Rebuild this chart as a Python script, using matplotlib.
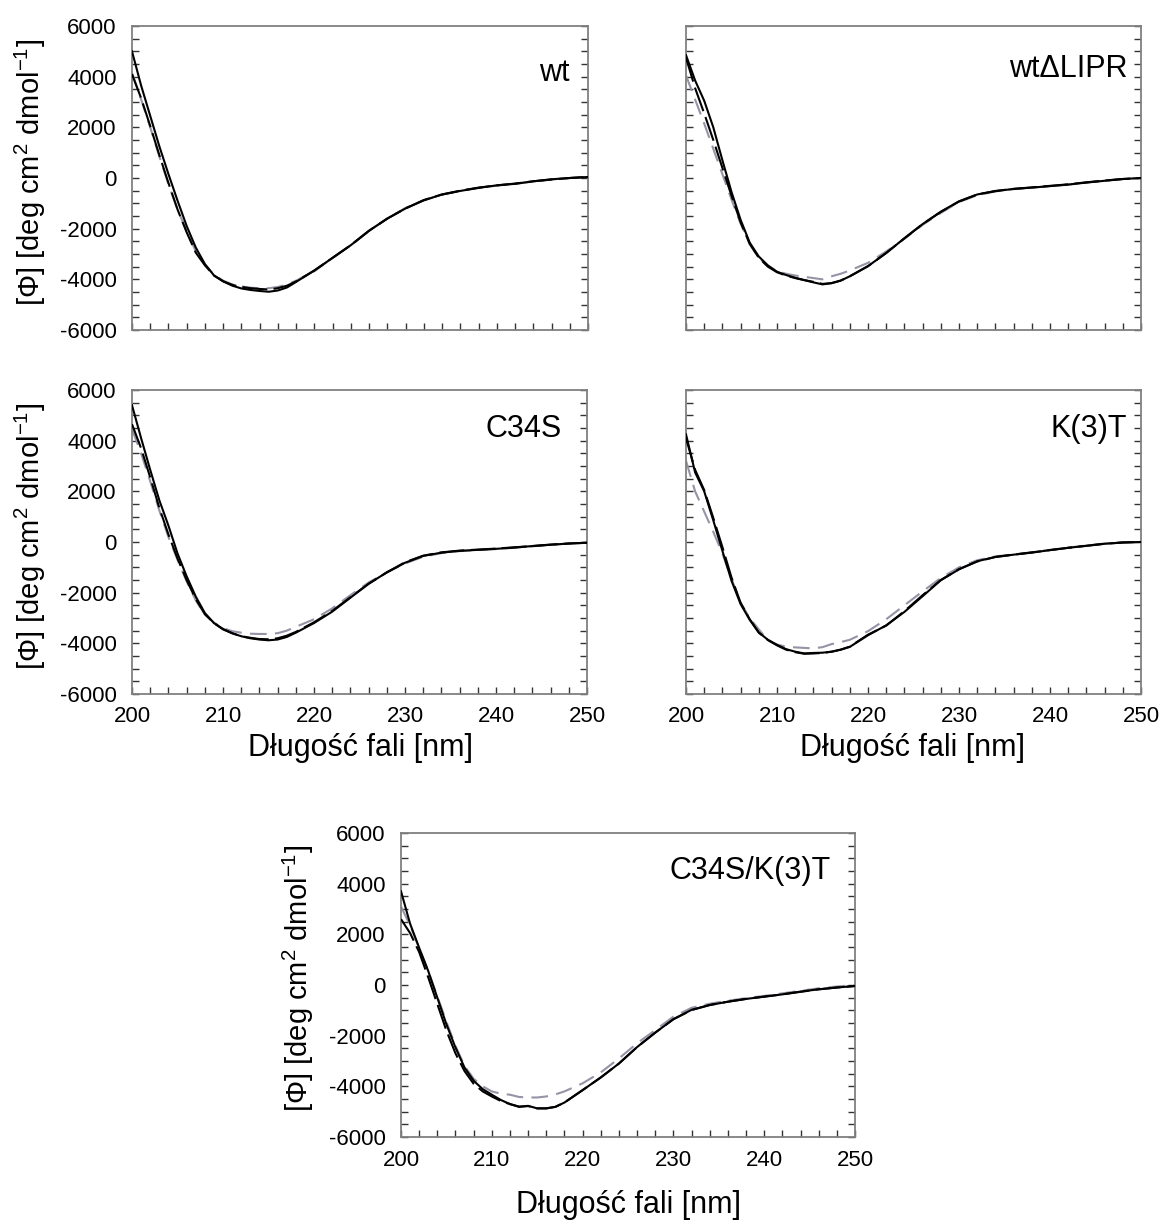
import matplotlib
matplotlib.use("Agg")
import matplotlib.pyplot as plt
from matplotlib.ticker import MultipleLocator

plt.rcParams['font.family'] = ['Liberation Sans', 'DejaVu Sans']
plt.rcParams['mathtext.fontset'] = 'custom'
plt.rcParams['mathtext.rm'] = 'Liberation Sans'
plt.rcParams['mathtext.it'] = 'Liberation Sans:italic'
plt.rcParams['mathtext.bf'] = 'Liberation Sans:bold'
plt.rcParams['axes.unicode_minus'] = False

# ---------------- data ----------------
wavelength = [200, 201, 202, 203, 204, 205, 206, 207, 208, 209, 210, 211, 212, 213, 214,
              215, 216, 217, 218, 220, 222, 224, 226, 228,
              230, 232, 234, 236, 238, 240, 242, 244, 246, 248, 250]

panel_names = ["wt", "wt\u0394LIPR", "C34S", "K(3)T", "C34S/K(3)T"]

wt_solid = [5000, 3650, 2450, 1250, 150, -900, -1900, -2750, -3400, -3850, -4080, -4250, -4360, -4420, -4460,
            -4490, -4440, -4320, -4100, -3650, -3150, -2650, -2080, -1600,
            -1200, -880, -650, -510, -390, -290, -230, -130, -50, 0, 40]
wt_dash = [4100, 3150, 2050, 900, -200, -1250, -2150, -2950, -3450, -3850, -4080, -4220, -4300, -4350, -4380,
           -4400, -4350, -4250, -4080, -3650, -3150, -2650, -2080, -1600,
           -1200, -870, -650, -500, -380, -290, -220, -130, -60, 0, 40]
wt_gray = [4150, 3100, 2000, 850, -250, -1250, -2100, -2900, -3420, -3830, -4050, -4200, -4280, -4330, -4350,
           -4350, -4300, -4200, -4050, -3680, -3150, -2650, -2080, -1600,
           -1180, -880, -660, -510, -390, -300, -230, -140, -60, 0, 40]

lipr_solid = [4850, 3850, 3050, 2000, 700, -550, -1650, -2550, -3100, -3450, -3700, -3830, -3940, -4030, -4120,
              -4200, -4150, -4050, -3880, -3480, -2960, -2380, -1820, -1330,
              -920, -650, -520, -430, -380, -320, -260, -180, -110, -40, 0]
lipr_dash = [4750, 3550, 2550, 1500, 400, -700, -1750, -2600, -3150, -3500, -3720, -3850, -3950, -4030, -4100,
             -4180, -4150, -4050, -3880, -3480, -2960, -2380, -1820, -1340,
             -930, -650, -510, -430, -370, -310, -250, -170, -100, -40, 0]
lipr_gray = [4050, 3100, 2150, 1150, 150, -850, -1800, -2600, -3150, -3480, -3680, -3780, -3850, -3900, -3950,
             -4000, -3880, -3780, -3650, -3350, -2900, -2400, -1850, -1380,
             -950, -680, -530, -440, -380, -320, -260, -180, -110, -40, 0]

c34s_solid = [5400, 4100, 2850, 1650, 650, -450, -1350, -2150, -2800, -3200, -3430, -3600, -3720, -3800, -3850,
              -3880, -3850, -3750, -3580, -3200, -2750, -2200, -1650, -1200,
              -820, -550, -420, -350, -310, -270, -220, -160, -110, -60, -30]
c34s_dash = [4650, 3700, 2550, 1350, 300, -650, -1500, -2250, -2850, -3200, -3450, -3600, -3720, -3780, -3830,
             -3840, -3800, -3700, -3550, -3170, -2720, -2180, -1650, -1200,
             -800, -540, -410, -340, -300, -260, -210, -160, -100, -60, -30]
c34s_gray = [4450, 3500, 2400, 1250, 200, -700, -1550, -2300, -2850, -3180, -3400, -3520, -3580, -3620, -3630,
             -3630, -3600, -3500, -3350, -3050, -2620, -2100, -1600, -1200,
             -850, -580, -440, -360, -320, -280, -230, -170, -110, -60, -30]

k3t_solid = [4250, 2750, 2000, 850, -350, -1530, -2450, -3070, -3570, -3860, -4060, -4230, -4330, -4400, -4380,
             -4370, -4330, -4250, -4140, -3680, -3290, -2760, -2140, -1510,
             -1080, -760, -590, -500, -420, -320, -230, -150, -70, -20, 0]
k3t_dash = [4100, 2850, 2050, 950, -200, -1400, -2400, -3050, -3580, -3870, -4080, -4250, -4350, -4410, -4400,
            -4380, -4330, -4250, -4130, -3660, -3300, -2730, -2100, -1500,
            -1070, -770, -590, -500, -410, -320, -230, -150, -70, -20, 0]
k3t_gray = [3200, 2000, 1200, 400, -450, -1450, -2400, -3000, -3450, -3880, -4050, -4130, -4160, -4180, -4200,
            -4150, -4030, -3950, -3860, -3520, -3050, -2500, -1950, -1420,
            -1000, -720, -570, -490, -410, -310, -220, -140, -60, -10, 0]

dbl_solid = [3700, 2420, 1470, 550, -500, -1550, -2470, -3260, -3780, -4110, -4330, -4540, -4700, -4810, -4770,
             -4870, -4870, -4810, -4640, -4150, -3650, -3100, -2450, -1880,
             -1350, -980, -790, -660, -550, -460, -370, -260, -170, -100, -40]
dbl_dash = [2600, 2050, 1300, 300, -750, -1800, -2700, -3400, -3900, -4200, -4400, -4580, -4700, -4800, -4780,
            -4870, -4870, -4810, -4640, -4150, -3650, -3100, -2450, -1880,
            -1350, -990, -790, -660, -550, -460, -370, -270, -170, -100, -40]
dbl_gray = [3100, 2350, 1450, 550, -450, -1450, -2400, -3200, -3700, -4000, -4200, -4290, -4330, -4420, -4440,
            -4440, -4400, -4320, -4200, -3880, -3450, -2900, -2300, -1780,
            -1250, -900, -740, -620, -520, -430, -330, -230, -130, -60, 0]

series = [
    (wt_solid, wt_dash, wt_gray),
    (lipr_solid, lipr_dash, lipr_gray),
    (c34s_solid, c34s_dash, c34s_gray),
    (k3t_solid, k3t_dash, k3t_gray),
    (dbl_solid, dbl_dash, dbl_gray),
]

# ---------------- layout (pixels) ----------------
W, H = 1160, 1225
boxes = [(132, 588, 26, 330), (686, 1141, 26, 330),
         (132, 587, 390, 694), (686, 1141, 390, 694),
         (401, 855, 833, 1137)]
label_pos = [(0.96, 0.845), (0.97, 0.86), (0.945, 0.873), (0.97, 0.873), (0.947, 0.875)]
show_xlab = [False, False, True, True, True]
show_ylab = [True, False, True, False, True]

fig = plt.figure(figsize=(W / 100, H / 100), dpi=100)
spine_col = '#808080'
gray_col = '#9494a6'

for i, (l, r, t, b) in enumerate(boxes):
    ax = fig.add_axes([l / W, 1 - b / H, (r - l) / W, (b - t) / H])
    s, d, g = series[i]
    ax.plot(wavelength, g, color=gray_col, lw=1.5, dashes=(8, 4), zorder=2)
    ax.plot(wavelength, d, color='black', lw=1.5, dashes=(12, 3), zorder=3)
    ax.plot(wavelength, s, color='black', lw=1.5, zorder=4)
    ax.set_xlim(200, 250)
    ax.set_ylim(-6000, 6000)
    ax.xaxis.set_major_locator(MultipleLocator(10))
    ax.xaxis.set_minor_locator(MultipleLocator(2))
    ax.yaxis.set_major_locator(MultipleLocator(2000))
    ax.yaxis.set_minor_locator(MultipleLocator(500))
    ax.tick_params(which='both', direction='in', length=5, width=1, color='#333333',
                   left=True, right=True, top=False, bottom=True)
    ax.tick_params(axis='x', which='major', labelsize=16, pad=9)
    ax.tick_params(axis='y', which='major', labelsize=16, pad=11)
    for sp in ax.spines.values():
        sp.set_color(spine_col)
        sp.set_linewidth(1.3)
    if not show_xlab[i]:
        ax.set_xticklabels([])
    if not show_ylab[i]:
        ax.set_yticklabels([])
    ax.text(label_pos[i][0], label_pos[i][1], panel_names[i], transform=ax.transAxes,
            ha='right', va='center', fontsize=22)

ylabel = "[\u03a6] [deg cm$^{2}$ dmol$^{-1}$]"
fig.text(30 / W, 1 - 172 / H, ylabel, rotation=90, ha='center', va='center', fontsize=21)
fig.text(30 / W, 1 - 536 / H, ylabel, rotation=90, ha='center', va='center', fontsize=21)
fig.text(298 / W, 1 - 978 / H, ylabel, rotation=90, ha='center', va='center', fontsize=21)

xlabel = "D\u0142ugo\u015b\u0107 fali [nm]"
fig.text(360 / W, 1 - 748 / H, xlabel, ha='center', va='center', fontsize=22)
fig.text(912 / W, 1 - 748 / H, xlabel, ha='center', va='center', fontsize=22)
fig.text(628 / W, 1 - 1205 / H, xlabel, ha='center', va='center', fontsize=22)

fig.savefig("out.png", dpi=100, facecolor='white')
